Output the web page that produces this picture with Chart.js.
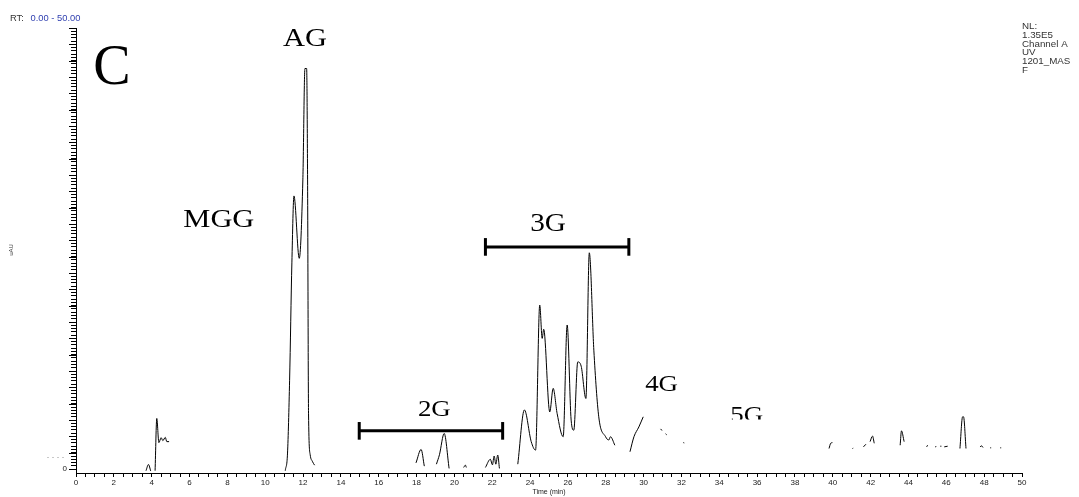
<!DOCTYPE html>
<html>
<head>
<meta charset="utf-8">
<script src="https://cdn.jsdelivr.net/npm/chart.js@4.4.1/dist/chart.umd.min.js"></script>
<style>
  html, body { margin: 0; padding: 0; background: #fff; }
  #wrap { width: 1079px; height: 497px; }
</style>
</head>
<body>
<div id="wrap"><canvas id="chrom" width="1079" height="497"></canvas></div>
<script>
// ---------- data: trace pieces, [time (min), signal] ----------
const seg4a  = [[3.70, -0.5], [3.83, 1.4], [3.95, -0.6]];
const seg4b  = [[4.18, -0.5], [4.27, 15.5], [4.38, 8.1], [4.50, 9.6], [4.59, 8.7], [4.72, 9.7], [4.80, 8.4], [4.92, 8.4]];
const segAG  = [[11.06, -0.5], [11.18, 4.9], [11.29, 27.2], [11.41, 63.1], [11.52, 83.6], [11.80, 64.5], [11.99, 88.5],
                [12.10, 122.6], [12.19, 122.6], [12.24, 88.5], [12.29, 17.1], [12.38, 4.3], [12.49, 2.4], [12.61, 1.2]];
const seg18  = [[17.97, 1.9], [18.24, 6.0], [18.41, 0.9]];
const seg19  = [[19.05, 1.5], [19.21, 4.4], [19.46, 10.9], [19.72, 0.2]];
const seg20  = [[20.49, 0.5], [20.58, 1.2], [20.63, 0.5]];
const seg22  = [[21.64, 0.5], [21.90, 3.0], [22.01, 1.3], [22.10, 4.0], [22.19, 1.5], [22.29, 4.3], [22.38, 0.2]];
const seg3G  = [[23.35, 1.5], [23.70, 18.1], [24.06, 8.4], [24.29, 5.8], [24.51, 50.2], [24.64, 40.0], [24.72, 42.8],
                [25.04, 17.5], [25.22, 24.7], [25.43, 17.0], [25.75, 9.9], [25.96, 44.1], [26.17, 15.0], [26.31, 11.9],
                [26.52, 32.8], [26.70, 31.5], [26.95, 21.6], [27.13, 66.2], [27.37, 36.4], [27.63, 16.0], [27.99, 9.9],
                [28.16, 8.9], [28.25, 9.9], [28.48, 7.3]];
const seg4G  = [[29.28, 5.3], [29.49, 9.9], [29.75, 12.9], [29.98, 16.0]];
const seg31a = [[30.90, 12.3], [30.97, 11.8]];
const seg31b = [[31.16, 10.8], [31.22, 10.5]];
const seg32  = [[32.10, 8.1], [32.15, 8.0]];
const seg40  = [[39.80, 6.3], [39.89, 7.9], [39.98, 8.1]];
const seg41  = [[41.04, 6.3], [41.08, 6.4]];
const seg42a = [[41.62, 6.8], [41.75, 7.6]];
const seg42b = [[41.97, 8.4], [42.10, 10.1], [42.19, 7.9]];
const seg43  = [[43.56, 7.3], [43.63, 11.7], [43.77, 8.4]];
const seg45a = [[44.96, 6.8], [45.01, 7.3]];
const seg45b = [[45.41, 6.8], [45.47, 6.9]];
const seg45c = [[45.68, 7.0], [45.74, 7.0]];
const seg46a = [[45.89, 6.8], [46.07, 7.0]];
const seg47  = [[46.72, 6.3], [46.86, 16.0], [46.91, 16.0], [47.04, 6.3]];
const seg48a = [[47.78, 6.8], [47.87, 7.1], [47.94, 6.6]];
const seg48b = [[48.32, 6.5], [48.37, 6.5]];
const seg49  = [[48.85, 6.5], [48.90, 6.5]];

// ---------- group brackets: [start, end, level] ----------
const bracket3G = [21.64, 29.22, 68.0];
const bracket2G = [14.97, 22.55, 11.7];

// ---------- ticks ----------
const xLabelTicks = [0, 2, 4, 6, 8, 10, 12, 14, 16, 18, 20, 22, 24, 26, 28, 30, 32, 34, 36, 38, 40, 42, 44, 46, 48, 50];
const yMax = 135;
const infoLines = ['NL:', '1.35E5', 'Channel A', 'UV', '1201_MAS', 'F'];

const segs = [seg4a, seg4b, segAG, seg18, seg19, seg20, seg22, seg3G, seg4G, seg31a, seg31b, seg32, seg40, seg41,
              seg42a, seg42b, seg43, seg45a, seg45b, seg45c, seg46a, seg47, seg48a, seg48b, seg49];
const trace = [];
segs.forEach((s) => {
  s.forEach(([x, y]) => trace.push({ x, y }));
  trace.push({ x: s[s.length - 1][0] + 0.005, y: null });
});

function barDS(b) {
  const [a, e, lv] = b;
  return [
    { data: [{ x: a, y: lv }, { x: e, y: lv }] },
    { data: [{ x: a, y: lv - 2.7 }, { x: a, y: lv + 2.7 }] },
    { data: [{ x: e, y: lv - 2.7 }, { x: e, y: lv + 2.7 }] },
  ].map((d) => Object.assign(d, { showLine: true, borderColor: '#000', borderWidth: 3, pointRadius: 0, borderCapStyle: 'butt' }));
}

// ---------- labels (peak groups) ----------
const groupLabels = [
  { t: 'AG', x: 12.1, y: 131.5, size: 26 },
  { t: 'MGG', x: 7.55, y: 76.3, size: 26 },
  { t: '3G', x: 24.95, y: 74.8, size: 25 },
  { t: '2G', x: 18.94, y: 18.2, size: 23 },
  { t: '4G', x: 30.95, y: 25.8, size: 23 },
  { t: '5G', x: 35.45, y: 16.4, size: 23, clipBelow: 15.2 },
];

// draws text squeezed/stretched horizontally like the exported original
function wideText(ctx, str, x, y, sx) {
  ctx.save(); ctx.translate(x, y); ctx.scale(sx, 1); ctx.fillText(str, 0, 0); ctx.restore();
}

const deco = {
  id: 'deco',
  afterDraw(chart) {
    const ctx = chart.ctx, xs = chart.scales.x, ys = chart.scales.y, ca = chart.chartArea;
    ctx.save();
    // longer ticks every 5 on the y axis
    ctx.strokeStyle = '#000'; ctx.lineWidth = 1;
    for (let v = 0; v <= yMax; v += 5) {
      const py = Math.round(ys.getPixelForValue(v)) + 0.5;
      ctx.beginPath(); ctx.moveTo(ca.left - 7, py); ctx.lineTo(ca.left, py); ctx.stroke();
    }
    // faint dotted marker left of the zero
    ctx.strokeStyle = '#c8c8c8'; ctx.setLineDash([2, 3]);
    const pz = Math.round(ys.getPixelForValue(3.7)) + 0.5;
    ctx.beginPath(); ctx.moveTo(47, pz); ctx.lineTo(66, pz); ctx.stroke();
    ctx.setLineDash([]);

    // header texts
    ctx.font = '8.5px "Liberation Sans", Arial, sans-serif';
    ctx.textBaseline = 'middle'; ctx.textAlign = 'left';
    ctx.fillStyle = '#333'; wideText(ctx, 'RT:', 10, 19, 1.1);
    ctx.fillStyle = '#2f3fb0'; wideText(ctx, '0.00 - 50.00', 30.5, 19, 1.1);
    ctx.fillStyle = '#333';
    infoLines.forEach((l, i) => wideText(ctx, l, 1022, 27 + i * 8.7, 1.15));
    // y axis title
    ctx.save(); ctx.translate(11, 250); ctx.rotate(-Math.PI / 2);
    ctx.textAlign = 'center'; ctx.font = '6px "Liberation Sans", Arial, sans-serif';
    ctx.fillText('uAU', 0, 0); ctx.restore();

    // panel letter
    ctx.fillStyle = '#000'; ctx.textAlign = 'center'; ctx.textBaseline = 'alphabetic';
    ctx.font = '56px "Liberation Serif", "Times New Roman", serif';
    ctx.fillText('C', 112, 84);

    groupLabels.forEach((g) => {
      const px = xs.getPixelForValue(g.x), py = ys.getPixelForValue(g.y);
      ctx.save();
      if (g.clipBelow != null) {
        ctx.beginPath(); ctx.rect(px - 60, py - 60, 120, ys.getPixelForValue(g.clipBelow) - (py - 60)); ctx.clip();
      }
      ctx.font = g.size + 'px "Liberation Serif", "Times New Roman", serif';
      ctx.textBaseline = 'middle';
      wideText(ctx, g.t, px, py, 1.17);
      ctx.restore();
    });
    ctx.restore();
  },
};

new Chart(document.getElementById('chrom'), {
  type: 'scatter',
  data: {
    datasets: [
      { data: trace, showLine: true, borderColor: '#000', borderWidth: 1, pointRadius: 0, spanGaps: false,
        cubicInterpolationMode: 'monotone' },
      ...barDS(bracket3G), ...barDS(bracket2G),
    ],
  },
  options: {
    responsive: false, animation: false, devicePixelRatio: 1,
    layout: { padding: { left: 0, top: 28, right: 57, bottom: 0 } },
    plugins: { legend: { display: false }, tooltip: { enabled: false } },
    scales: {
      x: {
        type: 'linear', min: 0, max: 50,
        afterBuildTicks: (ax) => { ax.ticks = Array.from({ length: 101 }, (_, i) => ({ value: i * 0.5 })); },
        afterFit: (ax) => { ax.height = 24; },
        grid: { display: true, drawOnChartArea: false, tickLength: 4, color: '#000' },
        border: { color: '#000', width: 1 },
        ticks: {
          autoSkip: false, maxRotation: 0, padding: 1, color: '#222',
          font: { family: '"Liberation Sans", Arial, sans-serif', size: 8 },
          callback: (v) => (xLabelTicks.includes(v) ? String(v) : ''),
        },
        title: { display: true, text: 'Time (min)', color: '#222', padding: { top: 0, bottom: 1 },
                 font: { family: '"Liberation Sans", Arial, sans-serif', size: 7 } },
      },
      y: {
        type: 'linear', min: -1.2, max: yMax,
        afterBuildTicks: (ax) => { ax.ticks = Array.from({ length: yMax + 1 }, (_, i) => ({ value: i })); },
        afterFit: (ax) => { ax.width = 76; },
        grid: { display: true, drawOnChartArea: false, tickLength: 5, color: '#000' },
        border: { color: '#000', width: 1 },
        ticks: {
          autoSkip: false, padding: 4, color: '#222',
          font: { family: '"Liberation Sans", Arial, sans-serif', size: 8 },
          callback: (v) => (v === 0 ? '0' : ''),
        },
      },
    },
  },
  plugins: [deco],
});
</script>
</body>
</html>
